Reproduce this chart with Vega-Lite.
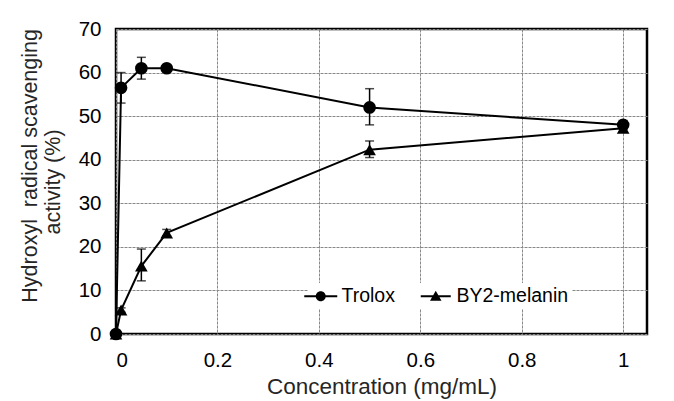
{
  "$schema": "https://vega.github.io/schema/vega-lite/v6.json",
  "width": 531,
  "height": 305,
  "autosize": {"type": "none"},
  "padding": {"left": 116, "top": 29, "right": 27, "bottom": 67},
  "background": "white",
  "config": {
    "font": "Liberation Sans",
    "view": {"stroke": "black", "strokeWidth": 2.5},
    "axis": {
      "domain": false,
      "ticks": false,
      "labelFont": "Liberation Sans",
      "labelFontSize": 20.5,
      "labelColor": "black",
      "titleFont": "Liberation Sans",
      "titleFontWeight": "normal",
      "titleColor": "#262626",
      "gridColor": "#888",
      "gridWidth": 1,
      "gridDash": [3, 1]
    }
  },
  "data": {
    "values": [
      {"conc": 0, "value": 0, "lo": 0, "hi": 0, "series": "Trolox"},
      {"conc": 0.01, "value": 56.5, "lo": 53, "hi": 60, "series": "Trolox"},
      {"conc": 0.05, "value": 61, "lo": 58.5, "hi": 63.5, "series": "Trolox"},
      {"conc": 0.1, "value": 61, "lo": 60.5, "hi": 61.5, "series": "Trolox"},
      {"conc": 0.5, "value": 52, "lo": 48, "hi": 56.3, "series": "Trolox"},
      {"conc": 1, "value": 48, "lo": 47, "hi": 49, "series": "Trolox"},
      {"conc": 0, "value": 0, "lo": 0, "hi": 0, "series": "BY2-melanin"},
      {"conc": 0.01, "value": 5.5, "lo": 5, "hi": 6, "series": "BY2-melanin"},
      {"conc": 0.05, "value": 15.6, "lo": 12.2, "hi": 19.5, "series": "BY2-melanin"},
      {"conc": 0.1, "value": 23.2, "lo": 22.5, "hi": 24, "series": "BY2-melanin"},
      {"conc": 0.5, "value": 42.3, "lo": 40.5, "hi": 44.3, "series": "BY2-melanin"},
      {"conc": 1, "value": 47.2, "lo": 46.5, "hi": 48, "series": "BY2-melanin"}
    ]
  },
  "encoding": {
    "x": {
      "field": "conc",
      "type": "quantitative",
      "scale": {"domain": [0, 1.047], "nice": false, "zero": false},
      "axis": {
        "values": [0, 0.2, 0.4, 0.6, 0.8, 1],
        "format": "~g",
        "labelPadding": 16,
        "title": "Concentration (mg/mL)",
        "titleFontSize": 22.5,
        "titlePadding": 5
      }
    },
    "y": {
      "field": "value",
      "type": "quantitative",
      "scale": {"domain": [0, 70], "nice": false},
      "axis": {
        "values": [0, 10, 20, 30, 40, 50, 60, 70],
        "labelPadding": 15,
        "title": ["\u200b\u2003\u2002Hydroxyl\u00a0 radical scavenging", "activity (%)"],
        "titleFontSize": 21.5,
        "titleLineHeight": 23,
        "titlePadding": 14
      }
    }
  },
  "resolve": {"scale": {"shape": "independent"}},
  "layer": [
    {
      "mark": {"type": "rule", "color": "black", "strokeWidth": 1.5},
      "encoding": {"y": {"field": "lo", "type": "quantitative"}, "y2": {"field": "hi"}}
    },
    {
      "mark": {"type": "tick", "orient": "horizontal", "color": "black", "size": 9, "thickness": 1.5},
      "encoding": {"y": {"field": "lo", "type": "quantitative"}}
    },
    {
      "mark": {"type": "tick", "orient": "horizontal", "color": "black", "size": 9, "thickness": 1.5},
      "encoding": {"y": {"field": "hi", "type": "quantitative"}}
    },
    {
      "mark": {"type": "line", "color": "black", "strokeWidth": 2},
      "encoding": {"detail": {"field": "series", "type": "nominal"}}
    },
    {
      "mark": {"type": "point", "filled": true, "color": "black", "opacity": 1, "size": 160},
      "encoding": {
        "shape": {
          "field": "series",
          "type": "nominal",
          "scale": {"domain": ["Trolox", "BY2-melanin"], "range": ["circle", "triangle-up"]},
          "legend": null
        }
      }
    },
    {
      "transform": [{"filter": "false"}],
      "mark": {"type": "point", "filled": true, "fill": "black", "strokeWidth": 0, "opacity": 1},
      "encoding": {
        "shape": {
          "field": "series",
          "type": "nominal",
          "scale": {
            "domain": ["Trolox", "BY2-melanin"],
            "range": [
              "M-3.3,-0.2H3.3V0.2H-3.3ZM1,0A1,1 0 1,1 -1,0A1,1 0 1,1 1,0Z",
              "M-3.0,-0.2H3.0V0.2H-3.0ZM0,-1.1L1.15,0.9L-1.15,0.9Z"
            ]
          },
          "legend": {
            "title": null,
            "orient": "none",
            "legendX": 192,
            "legendY": 254,
            "direction": "horizontal",
            "columns": 2,
            "fillColor": "white",
            "padding": 3,
            "symbolSize": 100,
            "symbolFillColor": "black",
            "symbolStrokeWidth": 0,
            "symbolOpacity": 1,
            "labelFontSize": 19.5,
            "labelFont": "Liberation Sans",
            "labelColor": "black",
            "labelOffset": 11,
            "columnPadding": 25
          }
        }
      }
    }
  ]
}
